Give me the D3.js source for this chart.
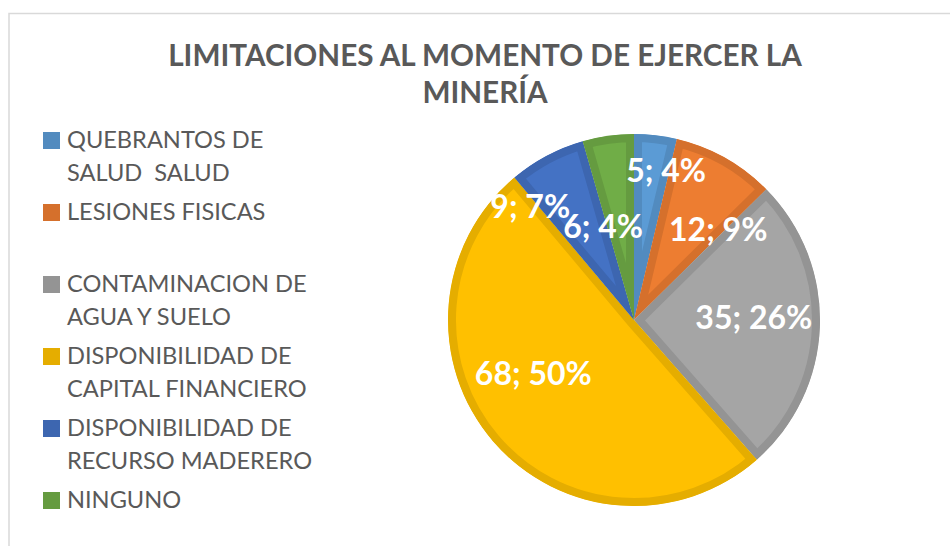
<!DOCTYPE html>
<html>
<head>
<meta charset="utf-8">
<script src="https://cdn.jsdelivr.net/npm/d3@7"></script>
<style>
  body { margin: 0; background: #fff; }
  svg { display: block; }
  text { white-space: pre; }
</style>
</head>
<body>
<svg width="950" height="546"></svg>
<script>
// data
var categories = [
  ["QUEBRANTOS DE", "SALUD  SALUD"],
  ["LESIONES FISICAS", ""],
  ["CONTAMINACION DE", "AGUA Y SUELO"],
  ["DISPONIBILIDAD DE", "CAPITAL FINANCIERO"],
  ["DISPONIBILIDAD DE", "RECURSO MADERERO"],
  ["NINGUNO"]
];
var values = [5, 12, 35, 68, 9, 6];
var percents = ["4%", "9%", "26%", "50%", "7%", "4%"];
var colors = ["#5B9BD5", "#ED7D31", "#A5A5A5", "#FFC000", "#4472C4", "#70AD47"];
var titleLines = ["LIMITACIONES AL MOMENTO DE EJERCER LA", "MINERÍA"];

// label nudges (Excel moved some labels off their centroid)
var labelNudge = [[18, -29], [25, 15], [-1, -6], [-9, -25], [-47, -6], [-14, 27]];

var svg = d3.select("svg");
var font = "Lato, 'Open Sans', sans-serif";

// chart frame
svg.append("rect")
  .attr("x", 9).attr("y", 13.5)
  .attr("width", 1200).attr("height", 1200)
  .attr("fill", "#fff")
  .attr("stroke", "#d9d9d9")
  .attr("stroke-width", 1.5);

// title
var title = svg.append("g").attr("class", "title");
title.selectAll("text")
  .data(titleLines)
  .enter().append("text")
  .attr("x", 485)
  .attr("y", function(d, i) { return 66 + i * 37; })
  .attr("text-anchor", "middle")
  .attr("font-family", font)
  .attr("font-weight", "bold")
  .attr("font-size", "29px")
  .attr("fill", "#595959")
  .text(function(d) { return d; });

// fit title width to ~634px
var tw = title.select("text").node().getComputedTextLength();
var tsize = 29 * 634 / tw;
title.selectAll("text").attr("font-size", tsize + "px");

// pie
var cx = 634, cy = 320, radius = 186;
var pie = d3.pie().sort(null).value(function(d) { return d; });
var arc = d3.arc().innerRadius(0).outerRadius(radius);
var labelArc = d3.arc().innerRadius(radius * 0.65).outerRadius(radius * 0.65);
var arcs = pie(values);

var defs = svg.append("defs");
var pg = svg.append("g").attr("transform", "translate(" + cx + "," + cy + ")");

arcs.forEach(function(a, i) {
  defs.append("clipPath").attr("id", "clip" + i)
    .append("path").attr("d", arc(a));
  pg.append("path")
    .attr("d", arc(a))
    .attr("clip-path", "url(#clip" + i + ")")
    .attr("fill", colors[i])
    .attr("stroke", d3.color(colors[i]).darker(0.3))
    .attr("stroke-width", 16)
    .attr("stroke-linejoin", "miter");
});

pg.selectAll("text.lbl")
  .data(arcs)
  .enter().append("text")
  .attr("class", "lbl")
  .attr("transform", function(d, i) {
    var c = labelArc.centroid(d);
    return "translate(" + (c[0] + labelNudge[i][0]) + "," + (c[1] + labelNudge[i][1]) + ")";
  })
  .attr("dy", "0.35em")
  .attr("text-anchor", "middle")
  .attr("font-family", font)
  .attr("font-weight", "bold")
  .attr("font-size", "32px")
  .attr("fill", "#fff")
  .text(function(d, i) { return values[i] + "; " + percents[i]; });

// legend
var legend = svg.append("g").attr("class", "legend");
var lineH = 33, entryGap = 39;
var y = 148;
categories.forEach(function(lines, i) {
  legend.append("rect")
    .attr("x", 43).attr("y", y - 16)
    .attr("width", 17).attr("height", 17)
    .attr("fill", d3.color(colors[i]).darker(0.3));
  lines.forEach(function(t, j) {
    legend.append("text")
      .attr("x", 67)
      .attr("y", y + j * lineH)
      .attr("font-family", font)
      .attr("font-size", "23.6px")
      .attr("fill", "#595959")
      .text(t);
  });
  y += (lines.length - 1) * lineH + entryGap;
});
</script>
</body>
</html>
